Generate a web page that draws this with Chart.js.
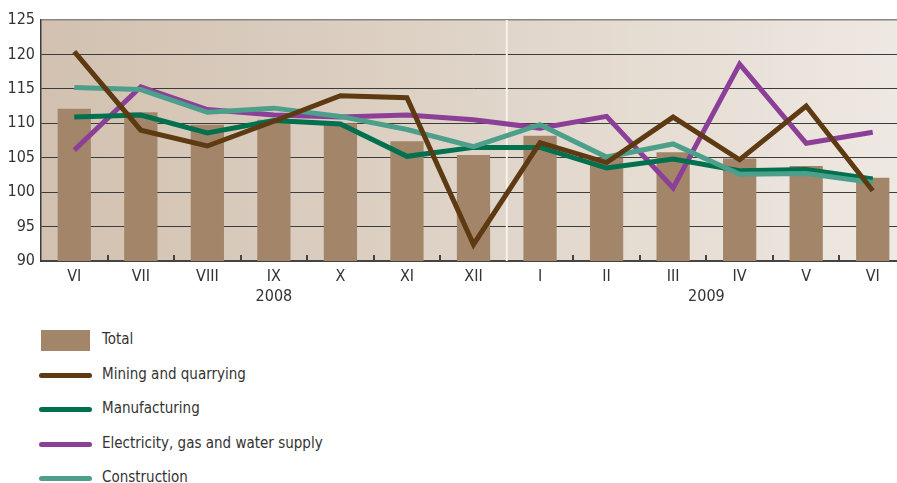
<!DOCTYPE html>
<html>
<head>
<meta charset="utf-8">
<script src="https://cdn.jsdelivr.net/npm/chart.js@4"></script>
<style>
  body { margin: 0; background: #fff; overflow: hidden; }
  #wrap { position: relative; width: 897px; height: 483px; overflow: hidden; }
  #chart { position: absolute; left: 0; top: 0; }
  #legend { position: absolute; left: 0; top: 322px; width: 897px; font-family: "Liberation Sans Narrow", "DejaVu Sans Condensed", sans-serif; font-size: 15px; color: #333; }
  .item { position: relative; height: 34.5px; }
  .item span { position: absolute; left: 102px; top: 8px; white-space: nowrap; }
  .box { position: absolute; left: 41px; top: 8px; width: 49px; height: 21px; }
  .line { position: absolute; left: 39px; top: 16px; width: 53px; height: 5px; border-radius: 3px; }
</style>
</head>
<body>
<div id="wrap">
  <canvas id="chart" width="906" height="310"></canvas>
  <div id="legend"></div>
</div>
<script>
"use strict";

// months, June 2008 to June 2009
let months = ["VI", "VII", "VIII", "IX", "X", "XI", "XII", "I", "II", "III", "IV", "V", "VI"];
let years = ["2008", "2009"];
let yTicks = [90, 95, 100, 105, 110, 115, 120, 125];

let total = [112.1, 111.6, 109.8, 110.5, 110.0, 107.4, 105.4, 108.2, 105.0, 105.8, 104.9, 103.8, 102.1];
let mining = [120.4, 109.0, 106.7, 110.3, 114.0, 113.7, 92.4, 107.2, 104.3, 110.9, 104.7, 112.5, 100.2];
let manufacturing = [110.9, 111.2, 108.6, 110.4, 109.9, 105.2, 106.5, 106.5, 103.5, 104.8, 103.1, 103.3, 101.9];
let electricity = [106.1, 115.3, 112.0, 111.2, 110.9, 111.2, 110.5, 109.3, 111.0, 100.6, 118.6, 107.1, 108.7];
let construction = [115.2, 114.9, 111.6, 112.2, 111.0, 109.1, 106.6, 109.8, 105.1, 107.0, 102.6, 102.7, 101.4];

let fontName = '"Liberation Sans Narrow", "DejaVu Sans Condensed", sans-serif';

// background gradient, white line between years, inside ticks, year labels
const decor = {
    id: "decor",
    beforeDraw(chart){
        let a = chart.chartArea;
        let ctx = chart.ctx;
        let g = ctx.createLinearGradient(a.left, 0, a.right, 0);
        g.addColorStop(0, "#d2c1b0");
        g.addColorStop(0.5, "#dfd4c8");
        g.addColorStop(1, "#efe9e3");
        ctx.save();
        ctx.fillStyle = g;
        ctx.fillRect(a.left, a.top, a.right - a.left, a.bottom - a.top);
        ctx.restore();
    },
    beforeDatasetsDraw(chart){
        let a = chart.chartArea;
        let ctx = chart.ctx;
        let x = chart.scales.x;
        let sep = (x.getPixelForValue(6) + x.getPixelForValue(7)) / 2;
        ctx.save();
        ctx.strokeStyle = "#f6f2ee";
        ctx.lineWidth = 2;
        ctx.beginPath();
        ctx.moveTo(sep, a.top);
        ctx.lineTo(sep, a.bottom);
        ctx.stroke();
        ctx.restore();
    },
    afterDraw(chart){
        let a = chart.chartArea;
        let ctx = chart.ctx;
        let x = chart.scales.x;
        ctx.save();
        ctx.strokeStyle = "#444";
        ctx.lineWidth = 2;
        for(let i = 0; i < months.length - 1; i++){
            if(i === 6) continue;
            let tx = Math.round((x.getPixelForValue(i) + x.getPixelForValue(i + 1)) / 2);
            ctx.beginPath();
            ctx.moveTo(tx, a.bottom);
            ctx.lineTo(tx, a.bottom - 6);
            ctx.stroke();
        }
        ctx.fillStyle = "#333";
        ctx.font = "16px " + fontName;
        ctx.textAlign = "center";
        ctx.textBaseline = "middle";
        ctx.fillText(years[0], (x.getPixelForValue(0) + x.getPixelForValue(6)) / 2, a.bottom + 36);
        ctx.fillText(years[1], (x.getPixelForValue(7) + x.getPixelForValue(12)) / 2, a.bottom + 36);
        ctx.restore();
    }
};

function lineSet(label, data, color, order){
    return {
        type: "line",
        label: label,
        data: data,
        borderColor: color,
        backgroundColor: color,
        borderWidth: 5,
        pointRadius: 0,
        tension: 0,
        borderJoinStyle: "miter",
        order: order
    };
}

const data = {
    labels: months,
    datasets: [
        {
            type: "bar",
            label: "Total",
            data: total,
            backgroundColor: "#a3866a",
            barPercentage: 0.5,
            categoryPercentage: 1,
            order: 10
        },
        lineSet("Mining and quarrying", mining, "#5e3a12", 1),
        lineSet("Manufacturing", manufacturing, "#00704f", 3),
        lineSet("Electricity, gas and water supply", electricity, "#8c3f97", 4),
        lineSet("Construction", construction, "#4c9f8a", 2)
    ]
};

const config = {
    type: "bar",
    data: data,
    options: {
        responsive: false,
        animation: false,
        layout: { padding: { top: 20, right: 0, left: 0, bottom: 0 } },
        plugins: {
            legend: { display: false },
            tooltip: { enabled: false }
        },
        scales: {
            x: {
                grid: { display: true, drawOnChartArea: false, drawTicks: false },
                border: { display: true, color: "#444", width: 2 },
                ticks: { color: "#333", font: { family: fontName, size: 16 }, padding: 6, maxRotation: 0 },
                afterFit(scale){ scale.height = 49; }
            },
            y: {
                min: yTicks[0],
                max: yTicks[yTicks.length - 1],
                afterBuildTicks(scale){ scale.ticks = yTicks.map(v => ({ value: v })); },
                grid: {
                    drawTicks: false,
                    color: ctx => ctx.tick && ctx.tick.value === 125 ? "#8a8580" : (ctx.tick && ctx.tick.value === 90 ? "rgba(0,0,0,0)" : "#3c3c3c"),
                    lineWidth: ctx => ctx.tick && ctx.tick.value === 125 ? 1.5 : 1
                },
                border: { display: true, color: "#3c3c3c", width: 1.5 },
                ticks: { color: "#333", font: { family: fontName, size: 16 }, padding: 6 },
                afterFit(scale){ scale.width = 41; }
            }
        }
    },
    plugins: [decor]
};

const myChart = new Chart(document.getElementById("chart"), config);

// legend below the chart
let legend = document.getElementById("legend");
for(let i = 0; i < data.datasets.length; i++){
    let ds = data.datasets[i];
    let div = document.createElement("div");
    div.className = "item";
    let mark = document.createElement("div");
    mark.className = ds.type === "bar" ? "box" : "line";
    mark.style.background = ds.type === "bar" ? ds.backgroundColor : ds.borderColor;
    let span = document.createElement("span");
    span.textContent = ds.label;
    div.appendChild(mark);
    div.appendChild(span);
    legend.appendChild(div);
}
</script>
</body>
</html>
